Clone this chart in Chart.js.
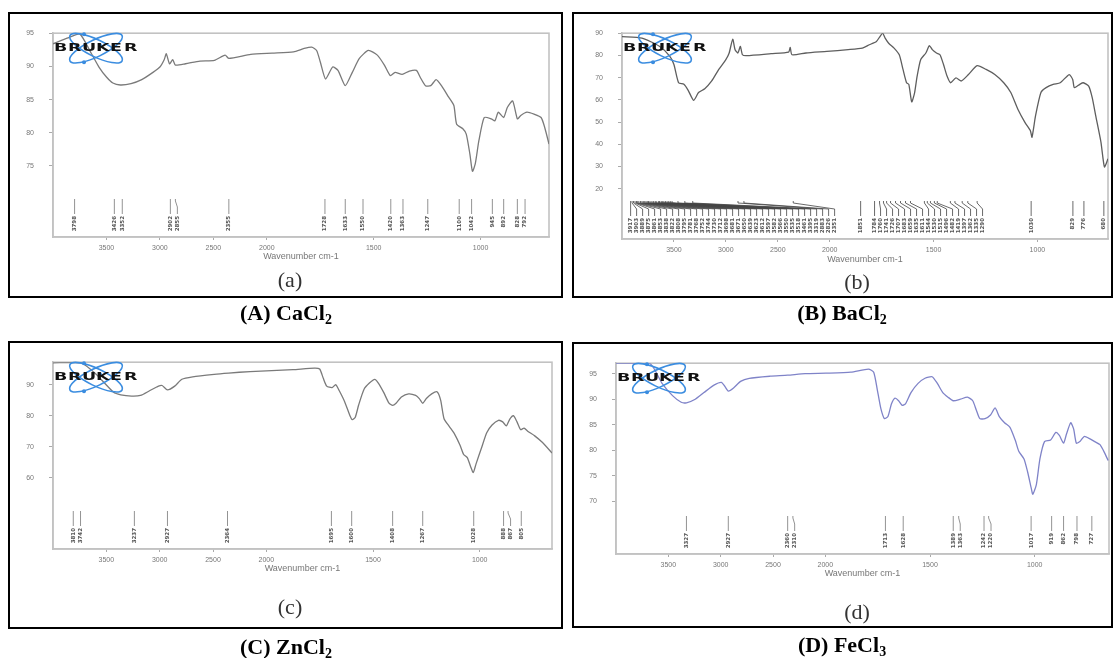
<!DOCTYPE html>
<html>
<head>
<meta charset="utf-8">
<script src="https://cdn.jsdelivr.net/npm/chart.js@4"></script>
<style>
  body { margin: 0; background: #fff; }
  #page { position: relative; width: 1115px; height: 658px; overflow: hidden; }
  .box { position: absolute; box-sizing: border-box; border: 2px solid #000; }
  .box canvas { position: absolute; left: 0; top: 0; filter: blur(0.4px); }
  .tag { position: absolute; transform: translate(-50%, -50%); font: 22px "Liberation Serif", serif; color: #333; white-space: nowrap; }
  .cap { position: absolute; transform: translate(-50%, -50%); font: bold 22px "Liberation Serif", serif; color: #000; white-space: nowrap; }
  .cap sub { font-size: 14px; vertical-align: -4px; line-height: 0; }
</style>
</head>
<body>
<div id="page">
  <div class="box" style="left:8px;top:12px;width:555px;height:286px">
    <canvas id="chartA" width="551" height="282"></canvas>
    <div class="tag" style="left:280px;top:266px">(a)</div>
  </div>
  <div class="cap" style="left:286px;top:313px">(A) CaCl<sub>2</sub></div>

  <div class="box" style="left:572px;top:12px;width:541px;height:286px">
    <canvas id="chartB" width="537" height="282"></canvas>
    <div class="tag" style="left:283px;top:268px">(b)</div>
  </div>
  <div class="cap" style="left:842px;top:313px">(B) BaCl<sub>2</sub></div>

  <div class="box" style="left:8px;top:341px;width:555px;height:288px">
    <canvas id="chartC" width="551" height="284"></canvas>
    <div class="tag" style="left:280px;top:264px">(c)</div>
  </div>
  <div class="cap" style="left:286px;top:647px">(C) ZnCl<sub>2</sub></div>

  <div class="box" style="left:572px;top:342px;width:541px;height:286px">
    <canvas id="chartD" width="537" height="282"></canvas>
    <div class="tag" style="left:283px;top:268px">(d)</div>
  </div>
  <div class="cap" style="left:842px;top:645px">(D) FeCl<sub>3</sub></div>
</div>

<script>
// wavenumber ticks shared by all four spectra
const XTICKS = [3500, 3000, 2500, 2000, 1500, 1000];

// (A) CaCl2
const WN_A = [4000,3860,3750,3640,3570,3500,3440,3370,3270,3170,3065,3000,2960,2940,2910,2880,2855,2760,2625,2490,2390,2355,2150,1975,1875,1825,1790,1767,1750,1725,1692,1667,1633,1600,1567,1525,1483,1450,1422,1400,1367,1333,1300,1283,1258,1233,1208,1183,1150,1125,1112,1083,1067,1050,1038,1025,1008,983,950,933,917,892,875,850,828,812,783,750,717,700,680];
const T_A = [93.4,94.3,94.9,91.9,89.9,88.4,87.5,87.2,87.4,88.0,89.1,89.9,91.0,91.9,90.4,91.0,90.2,90.4,90.8,90.9,91.7,91.2,91.8,92.0,92.2,92.7,92.9,92.4,90.7,88.1,89.9,89.4,87.1,89.1,91.2,92.4,91.7,90.2,88.6,89.1,88.8,89.3,89.4,88.4,87.1,87.1,88.0,87.1,85.4,84.1,81.3,80.6,79.8,76.8,74.2,75.3,78.8,82.3,82.1,81.8,83.1,82.3,83.8,84.8,82.1,82.6,83.1,82.8,82.3,80.8,78.3];
const PEAKS_A = [3798,3426,3352,2902,2855,2355,1728,1633,1550,1420,1363,1247,1100,1042,945,892,828,792];
const YT_A = [95, 90, 85, 80, 75];

// (B) BaCl2
const WN_B = [4000,3808,3640,3539,3500,3455,3404,3364,3310,3263,3203,3136,3068,3000,2968,2934,2911,2884,2860,2840,2800,2564,2396,2380,2363,2228,2027,1911,1843,1809,1775,1758,1745,1733,1716,1690,1665,1647,1630,1619,1605,1591,1579,1562,1537,1520,1506,1486,1469,1452,1435,1418,1392,1366,1332,1290,1247,1205,1162,1128,1094,1060,1034,1026,1009,983,958,924,890,847,830,822,796,779,753,736,719,694,677,660];
const T_B = [88.5,87.8,84.1,79.6,75.9,67.7,67.0,64.4,59.8,63.3,65.0,68.5,73.7,78.1,81.1,87.3,82.6,81.1,84.1,80.3,79.9,80.8,81.5,83.6,80.3,81.1,81.8,82.6,83.3,84.8,86.3,88.5,90.0,87.8,85.5,83.3,80.3,73.7,67.7,67.0,59.1,63.3,70.7,78.1,81.1,84.4,82.6,81.1,80.3,75.9,70.7,67.7,69.9,68.5,71.4,75.4,73.7,71.4,67.7,63.3,55.8,49.9,46.2,43.2,52.8,63.3,65.5,67.0,67.7,71.4,69.2,65.5,67.0,67.7,66.2,61.0,52.8,41.0,29.8,33.5];
const PEAKS_B = [3917,3903,3889,3875,3861,3853,3838,3822,3808,3795,3781,3768,3752,3744,3730,3712,3698,3681,3671,3650,3639,3623,3612,3597,3582,3566,3550,3535,3518,3461,3395,3319,2883,2826,2351,1851,1784,1760,1741,1726,1707,1683,1659,1635,1611,1544,1530,1515,1496,1482,1419,1397,1362,1335,1290,1030,829,776,680];
const YT_B = [90, 80, 70, 60, 50, 40, 30, 20];

// (C) ZnCl2
const WN_C = [4000,3736,3601,3432,3365,3264,3180,3095,3011,2977,2927,2859,2792,2691,2489,2354,2152,1975,1875,1775,1750,1733,1717,1692,1675,1658,1633,1608,1597,1583,1567,1542,1517,1492,1475,1450,1425,1408,1392,1367,1333,1300,1283,1267,1250,1225,1200,1183,1167,1142,1117,1092,1075,1058,1042,1030,1017,992,967,942,912,892,875,858,842,825,808,792,775,742,708,661];
const T_C = [97.0,97.0,93.5,87.5,86.7,86.3,86.5,88.0,89.5,89.7,88.3,89.5,91.7,92.5,93.3,93.7,94.2,94.5,94.8,95.3,95.0,92.0,89.5,89.0,90.0,88.0,84.5,80.0,78.7,79.5,83.5,88.5,90.5,91.7,90.5,87.5,84.0,83.3,84.0,86.0,87.0,86.5,85.5,84.0,85.5,87.0,87.7,85.0,79.0,76.5,74.0,70.5,67.5,66.5,63.5,61.7,64.5,69.5,74.5,77.0,78.5,78.0,76.7,79.0,80.0,78.0,75.5,76.0,75.0,73.5,71.5,68.0];
const PEAKS_C = [3810,3742,3237,2927,2364,1695,1600,1408,1267,1028,888,867,805];
const YT_C = [90, 80, 70, 60];

// (D) FeCl3
const WN_D = [4000,3677,3560,3460,3377,3327,3243,3160,3060,2993,2960,2927,2877,2810,2727,2527,2360,2193,1997,1878,1794,1769,1752,1735,1718,1701,1684,1667,1650,1633,1617,1591,1557,1524,1490,1465,1439,1414,1389,1355,1321,1296,1279,1262,1237,1211,1189,1169,1144,1118,1093,1076,1051,1034,1017,1009,992,975,953,924,899,882,862,848,828,814,801,784,764,738,713,688,666,649];
const T_D = [97.0,97.0,93.1,90.7,89.4,89.3,90.0,91.3,92.8,93.3,92.5,91.6,92.2,93.5,94.1,94.5,94.7,95.0,95.1,95.3,95.9,95.3,91.9,88.2,86.2,86.6,89.1,90.2,89.7,88.8,89.1,91.3,93.1,94.1,94.4,93.1,91.3,90.4,89.7,90.0,90.4,89.7,87.9,86.2,86.2,86.9,88.3,86.6,85.4,84.5,82.0,79.8,78.3,75.8,72.7,71.4,73.3,78.3,81.7,82.0,83.5,82.9,81.4,83.2,85.4,84.2,81.4,81.7,82.7,82.3,81.7,81.1,79.5,78.0];
const PEAKS_D = [3327,2927,2360,2310,1713,1628,1389,1363,1242,1220,1017,919,862,798,727];
const YT_D = [95, 90, 85, 80, 75, 70];

// OPUS style axis: above 2000 cm-1 the scale is compressed by half
const BREAK = 2000;
const squeeze = w => w > BREAK ? BREAK + (w - BREAK) / 2 : w;
const unsqueeze = u => u > BREAK ? BREAK + (u - BREAK) * 2 : u;

class OpusScale extends Chart.LinearScale {
  getPixelForValue(v) {
    const a = squeeze(this.min), b = squeeze(this.max);
    return this.getPixelForDecimal((squeeze(v) - a) / (b - a));
  }
  getValueForPixel(p) {
    const a = squeeze(this.min), b = squeeze(this.max);
    return unsqueeze(a + this.getDecimalForPixel(p) * (b - a));
  }
}
OpusScale.id = 'opus';
OpusScale.defaults = Chart.LinearScale.defaults;
Chart.register(OpusScale);

const framePlugin = {
  id: 'frame',
  beforeDatasetsDraw(chart) {
    const { ctx, chartArea: ca } = chart;
    ctx.save();
    ctx.strokeStyle = '#c2c2c2';
    ctx.lineWidth = 1.6;
    ctx.strokeRect(ca.left, ca.top, ca.right - ca.left, ca.bottom - ca.top);
    ctx.restore();
  }
};

const peakPlugin = {
  id: 'peaks',
  afterDatasetsDraw(chart, args, o) {
    const { ctx, chartArea: ca, scales: { x } } = chart;
    const px = o.values.map(v => x.getPixelForValue(v));
    const order = px.map((p, i) => i).sort((a, b) => px[a] - px[b]);
    const lx = [];
    let last = -Infinity;
    order.forEach(i => { lx[i] = Math.max(px[i], last + o.spacing); last = lx[i]; });

    const y0 = ca.bottom - 38, y1 = ca.bottom - 30, y2 = ca.bottom - 23;
    ctx.save();
    ctx.strokeStyle = o.color;
    ctx.fillStyle = '#555';
    ctx.lineWidth = 0.8;
    ctx.font = 'bold 5.5px "DejaVu Sans"';
    o.values.forEach((v, i) => {
      ctx.beginPath();
      ctx.moveTo(px[i], y0);
      ctx.lineTo(px[i], y0 + 2);
      ctx.lineTo(lx[i], y1);
      ctx.lineTo(lx[i], y2);
      ctx.stroke();
      ctx.save();
      ctx.translate(lx[i], ca.bottom - 21);
      ctx.rotate(-Math.PI / 2);
      ctx.textAlign = 'right';
      ctx.textBaseline = 'middle';
      ctx.fillText(String(v), 0, 0);
      ctx.restore();
    });
    ctx.restore();
  }
};

const logoPlugin = {
  id: 'logo',
  afterDatasetsDraw(chart) {
    const { ctx, chartArea: ca } = chart;
    const cx = ca.left + 43, cy = ca.top + 15;
    ctx.save();
    ctx.strokeStyle = '#3b8de0';
    ctx.fillStyle = '#3b8de0';
    ctx.lineWidth = 1.6;
    [0.45, -0.45].forEach(r => {
      ctx.beginPath();
      ctx.ellipse(cx, cy, 29, 8.5, r, 0, 2 * Math.PI);
      ctx.stroke();
    });
    [[cx - 12, cy - 14], [cx - 12, cy + 14], [cx + 4, cy - 3]].forEach(([dx, dy]) => {
      ctx.beginPath(); ctx.arc(dx, dy, 2, 0, 2 * Math.PI); ctx.fill();
    });
    ctx.fillStyle = '#111';
    ctx.font = 'bold 10px "DejaVu Sans"';
    ctx.textBaseline = 'middle';
    'BRUKER'.split('').forEach((c, i) => {
      ctx.save();
      ctx.translate(ca.left + 1 + i * 14, cy + 0.5);
      ctx.scale(1.75, 1);
      ctx.fillText(c, 0, 0);
      ctx.restore();
    });
    ctx.restore();
  }
};

function makeSpectrum(id, wn, t, peaks, yTicks, cfg) {
  const points = wn.map((w, i) => ({ x: w, y: t[i] }));
  return new Chart(document.getElementById(id), {
    type: 'line',
    data: {
      datasets: [{
        data: points,
        borderColor: cfg.color,
        borderWidth: 1.3,
        pointRadius: 0,
        tension: 0.2,
        fill: false
      }]
    },
    plugins: [framePlugin, peakPlugin, logoPlugin],
    options: {
      responsive: false,
      animation: false,
      events: [],
      layout: { padding: { left: 0, top: cfg.top, right: cfg.right, bottom: 0 } },
      plugins: {
        legend: { display: false },
        tooltip: { enabled: false },
        peaks: { values: peaks, spacing: cfg.spacing, color: cfg.peakColor }
      },
      scales: {
        x: {
          type: 'opus',
          reverse: true,
          min: cfg.xMin,
          max: 4000,
          afterBuildTicks: s => { s.ticks = XTICKS.map(v => ({ value: v })); },
          afterFit: s => { s.height = cfg.bottom; },
          ticks: { callback: v => String(v), color: '#777', font: { size: 7, family: 'Liberation Sans' }, padding: 4, maxRotation: 0, autoSkip: false },
          grid: { drawOnChartArea: false, tickLength: 3, color: '#aaa' },
          border: { color: '#c2c2c2', width: 1.6 },
          title: { display: true, text: 'Wavenumber cm-1', color: '#777', font: { size: 9, family: 'Liberation Sans' }, padding: { top: 0, bottom: cfg.titlePad } }
        },
        y: {
          min: cfg.yMin,
          max: cfg.yMax,
          afterBuildTicks: s => { s.ticks = yTicks.map(v => ({ value: v })); },
          afterFit: s => { s.width = cfg.left; },
          ticks: { callback: v => String(v), color: '#777', font: { size: 7, family: 'Liberation Sans' }, padding: 15 },
          grid: { drawOnChartArea: false, tickLength: 4, color: '#aaa' },
          border: { color: '#c2c2c2', width: 1.6 }
        }
      }
    }
  });
}

makeSpectrum('chartA', WN_A, T_A, PEAKS_A, YT_A,
  { left: 43, top: 19, right: 12, bottom: 59, titlePad: 33.6, xMin: 680, yMin: 64.3, yMax: 95, color: '#7a7a7a', peakColor: '#777', spacing: 7 });
makeSpectrum('chartB', WN_B, T_B, PEAKS_B, YT_B,
  { left: 48, top: 16, right: 3, bottom: 57, titlePad: 30.6, xMin: 660, yMin: -2.6, yMax: 90, color: '#5e5e5e', peakColor: '#444', spacing: 6 });
makeSpectrum('chartC', WN_C, T_C, PEAKS_C, YT_C,
  { left: 43, top: 6, right: 9, bottom: 78, titlePad: 52.6, xMin: 661, yMin: 37.1, yMax: 97.2, color: '#7a7a7a', peakColor: '#777', spacing: 7 });
makeSpectrum('chartD', WN_D, T_D, PEAKS_D, YT_D,
  { left: 42, top: 10, right: 2, bottom: 72, titlePad: 46.6, xMin: 645, yMin: 59.7, yMax: 97.05, color: '#7f83c8', peakColor: '#777', spacing: 7 });
</script>
</body>
</html>
